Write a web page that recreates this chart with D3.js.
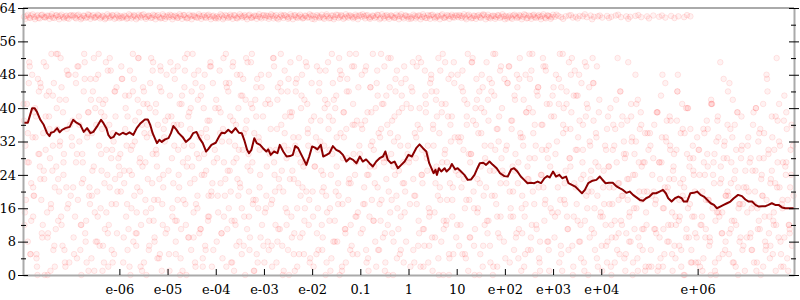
<!DOCTYPE html>
<html>
<head>
<meta charset="utf-8">
<script src="https://cdnjs.cloudflare.com/ajax/libs/d3/7.8.5/d3.min.js"></script>
<style>
body { margin: 0; background: #fff; }
text { font-family: "DejaVu Serif", "Liberation Serif", serif; font-size: 13px; fill: #000; }
</style>
</head>
<body>
<div id="chart"></div>
<script>
// x values are stored as powers of ten (log10 of the value)
var xTicks = [-6, -5, -4, -3, -2, -1, 0, 1, 2, 3, 4, 6];
var xTickLabels = ["e-06", "e-05", "e-04", "e-03", "e-02", "0.1", "1", "10", "e+02", "e+03", "e+04", "e+06"];
var yTicks = [0, 8, 16, 24, 32, 40, 48, 56, 64];
var yMinorTicks = [4, 12, 20, 28, 36, 44, 52, 60];

// running line
var lineX = [-8, -7.9, -7.81, -7.76, -7.71, -7.64, -7.57, -7.5, -7.45, -7.42, -7.36, -7.29, -7.24, -7.19, -7.12, -7.03, -6.96, -6.89, -6.81, -6.74, -6.67, -6.6, -6.54, -6.47, -6.38, -6.33, -6.27, -6.23, -6.18, -6.12, -6.07, -6, -5.93, -5.86, -5.79, -5.71, -5.64, -5.56, -5.47, -5.41, -5.36, -5.31, -5.22, -5.17, -5.12, -5.05, -4.98, -4.93, -4.88, -4.82, -4.77, -4.69, -4.62, -4.53, -4.47, -4.4, -4.34, -4.27, -4.2, -4.16, -4.09, -4, -3.93, -3.88, -3.81, -3.74, -3.67, -3.59, -3.52, -3.46, -3.41, -3.35, -3.31, -3.26, -3.2, -3.15, -3.08, -3.02, -2.95, -2.91, -2.86, -2.79, -2.72, -2.67, -2.6, -2.53, -2.46, -2.4, -2.35, -2.29, -2.24, -2.17, -2.12, -2.06, -2, -1.95, -1.89, -1.82, -1.77, -1.7, -1.64, -1.57, -1.5, -1.43, -1.36, -1.29, -1.22, -1.15, -1.08, -1.01, -0.95, -0.88, -0.81, -0.74, -0.67, -0.6, -0.53, -0.48, -0.43, -0.36, -0.29, -0.22, -0.15, -0.08, 0, 0.07, 0.16, 0.23, 0.3, 0.37, 0.43, 0.52, 0.56, 0.59, 0.63, 0.68, 0.75, 0.79, 0.86, 0.9, 0.97, 1.02, 1.09, 1.16, 1.23, 1.3, 1.37, 1.43, 1.48, 1.55, 1.61, 1.68, 1.75, 1.83, 1.9, 1.99, 2.06, 2.13, 2.19, 2.26, 2.33, 2.4, 2.47, 2.54, 2.61, 2.68, 2.75, 2.82, 2.88, 2.93, 3, 3.06, 3.13, 3.19, 3.27, 3.32, 3.39, 3.46, 3.53, 3.6, 3.66, 3.73, 3.82, 3.9, 3.97, 4.02, 4.09, 4.16, 4.24, 4.31, 4.38, 4.45, 4.52, 4.59, 4.66, 4.73, 4.8, 4.87, 4.93, 5, 5.07, 5.14, 5.21, 5.28, 5.34, 5.39, 5.46, 5.53, 5.6, 5.67, 5.71, 5.78, 5.85, 5.92, 5.99, 6.06, 6.13, 6.2, 6.27, 6.34, 6.4, 6.47, 6.54, 6.61, 6.68, 6.75, 6.84, 6.92, 6.99, 7.06, 7.13, 7.2, 7.27, 7.34, 7.41, 7.47, 7.54, 7.61, 7.68, 7.75, 7.82, 8];
var lineY = [36.5, 36.5, 40, 40, 39.1, 37.2, 36, 34, 33.3, 34.1, 34.3, 35.2, 34.2, 34.8, 35.2, 35.5, 37.2, 36.5, 36, 34.3, 35.2, 34, 34.3, 35.5, 37.2, 36.4, 35.2, 33.6, 32.8, 33.1, 34.1, 33.6, 34.1, 33.7, 34.2, 33.6, 35.2, 36.4, 37.3, 37.3, 36, 34, 31.6, 32.4, 31.9, 32.5, 32.8, 34, 35.7, 34.9, 34, 33.1, 31.9, 32.8, 34, 34.3, 32.8, 31.6, 29.6, 30.1, 31.2, 31.7, 33.2, 34.1, 34, 34.8, 34.1, 35.2, 34.1, 34, 32.4, 30, 29.2, 30, 32.8, 31.6, 31.2, 30.4, 29.6, 30.1, 28.8, 29.6, 29.2, 31.2, 29.6, 28.4, 28.5, 28.8, 30.9, 30.4, 29.2, 27.6, 26.4, 28.4, 30.8, 30.6, 30.1, 31.2, 28.4, 28.8, 29.2, 30.9, 30, 29.6, 28.8, 27.2, 28, 27.6, 26.8, 28.4, 27.2, 27.7, 26.8, 26, 27.2, 28, 28.4, 29.6, 27.6, 26.8, 27.2, 25.6, 26.4, 27.2, 28.8, 28.4, 30.4, 31.3, 30.4, 29.6, 26.8, 24.4, 25.2, 24, 25.6, 24.8, 25.6, 24.8, 25.6, 26.6, 25.3, 25.6, 24.8, 24, 22.8, 22.9, 24, 25.6, 26.8, 26.9, 26.4, 27.2, 26.4, 25.6, 24.4, 23.7, 23.6, 25.3, 25.6, 24.8, 23.6, 22.8, 22, 22.1, 22, 22.4, 22, 23.2, 23.7, 23.4, 24.8, 23.6, 24, 23.2, 23.6, 22, 21.6, 21.2, 20.4, 19.6, 20.4, 22, 22.6, 22.8, 23.6, 22.9, 22, 22.1, 22.1, 21.3, 20.8, 20.4, 19.7, 20, 19.2, 18.6, 18, 17.8, 18.4, 18.8, 19.6, 19.6, 20, 20.4, 19.6, 18.4, 17.6, 18.4, 18.8, 18.4, 17.6, 17.6, 19.6, 19.7, 20, 19.2, 18.8, 18, 17.2, 16.8, 16, 16.4, 16.8, 17.2, 17.6, 18.4, 19.2, 18.9, 18.1, 17.6, 17.6, 16.8, 16.4, 16.5, 16.5, 16.8, 17.2, 16.8, 16.8, 16.2, 16, 16];

// band of points near the top
var band = [
[-7.98,61.9],[-7.93,62.1],[-7.87,61.7],[-7.83,62.2],[-7.77,61.8],[-7.72,62],[-7.68,61.6],[-7.62,62.3],[-7.57,61.9],[-7.53,61.8],[-7.47,62.1],[-7.42,62],[-7.38,61.7],[-7.32,62.2],[-7.27,61.9],[-7.23,62.1],[-7.17,61.8],[-7.12,62],[-7.08,61.6],[-7.03,62.2],
[-6.97,62],[-6.92,61.7],[-6.88,62.2],[-6.82,61.9],[-6.78,61.6],[-6.73,62.1],[-6.67,61.8],[-6.63,62.3],[-6.58,62],[-6.52,61.7],[-6.48,61.9],[-6.43,62.2],[-6.37,61.8],[-6.33,62],[-6.28,61.6],[-6.22,62.1],[-6.18,61.9],[-6.13,62.2],[-6.07,61.7],[-6.02,62],
[-5.98,62.1],[-5.93,61.8],[-5.87,62],[-5.83,61.6],[-5.77,62.2],[-5.72,61.9],[-5.68,62.1],[-5.62,61.7],[-5.57,62],[-5.53,62.3],[-5.47,61.8],[-5.42,61.9],[-5.38,62.1],[-5.32,61.7],[-5.27,62.2],[-5.23,62],[-5.17,61.8],[-5.12,61.6],[-5.08,62.1],[-5.03,61.9],
[-4.97,61.8],[-4.92,62.2],[-4.88,61.9],[-4.82,62],[-4.78,61.7],[-4.73,62.1],[-4.67,62.3],[-4.63,61.8],[-4.58,61.6],[-4.52,62],[-4.48,62.2],[-4.43,61.9],[-4.37,61.7],[-4.33,62.1],[-4.28,62],[-4.22,61.8],[-4.18,62.2],[-4.13,61.9],[-4.07,62],[-4.02,61.7],
[-3.98,62],[-3.93,61.9],[-3.87,62.2],[-3.83,61.7],[-3.77,62.1],[-3.72,61.8],[-3.68,62],[-3.62,62.3],[-3.57,61.6],[-3.53,61.9],[-3.47,62.1],[-3.42,62],[-3.38,61.8],[-3.32,62.2],[-3.27,61.7],[-3.23,61.9],[-3.17,62.1],[-3.12,62],[-3.08,61.8],[-3.03,62.2],
[-2.97,61.7],[-2.92,62.1],[-2.88,61.9],[-2.82,62.2],[-2.78,62],[-2.73,61.6],[-2.67,61.8],[-2.63,62.1],[-2.58,62.3],[-2.52,61.9],[-2.48,61.7],[-2.43,62],[-2.37,62.2],[-2.33,61.8],[-2.28,62],[-2.22,61.9],[-2.18,61.6],[-2.13,62.1],[-2.07,61.8],[-2.02,62.2],
[-1.98,62.2],[-1.93,61.8],[-1.87,62],[-1.83,61.9],[-1.77,61.7],[-1.72,62.1],[-1.68,62],[-1.62,61.6],[-1.57,62.2],[-1.53,61.8],[-1.47,62.3],[-1.42,61.9],[-1.38,62.1],[-1.32,61.7],[-1.27,62],[-1.23,62.2],[-1.17,61.9],[-1.12,61.8],[-1.08,62],[-1.03,62.1],
[-0.97,61.9],[-0.92,62],[-0.88,62.2],[-0.82,61.7],[-0.78,61.8],[-0.73,62.1],[-0.67,61.9],[-0.63,62.3],[-0.58,61.6],[-0.52,62],[-0.48,62.1],[-0.43,61.8],[-0.37,62.2],[-0.33,61.9],[-0.28,61.7],[-0.22,62],[-0.18,62.1],[-0.13,61.8],[-0.07,62.2],[-0.02,61.9],
[0.02,62],[0.07,61.7],[0.13,62.1],[0.17,61.9],[0.23,62.2],[0.28,61.8],[0.32,62],[0.38,61.6],[0.43,62.1],[0.47,62.3],[0.53,61.9],[0.58,61.8],[0.62,62],[0.68,62.2],[0.73,61.7],[0.77,61.9],[0.83,62.1],[0.88,62],[0.92,61.8],[0.97,62.2],
[1.03,61.8],[1.08,62.1],[1.12,62],[1.18,61.7],[1.22,62.2],[1.27,61.9],[1.33,61.6],[1.37,62.1],[1.42,62],[1.48,61.8],[1.52,62.2],[1.57,62.3],[1.63,61.9],[1.67,61.7],[1.72,62],[1.78,62.1],[1.82,61.8],[1.87,62.2],[1.93,61.9],[1.98,62],
[2.02,62.1],[2.07,61.9],[2.13,61.7],[2.17,62.2],[2.23,62],[2.28,61.8],[2.32,62.1],[2.38,61.9],[2.43,62.3],[2.47,61.6],[2.53,62],[2.58,62.2],[2.62,61.8],[2.68,62],[2.73,61.9],[2.77,62.1],[2.83,61.7],[2.88,62.2],[2.92,62],[2.97,61.8],
[3.04,61.9],[3.11,62.1],[3.17,61.8],[3.26,62],[3.33,62.2],[3.41,61.7],[3.47,61.9],[3.55,62.1],[3.62,62],[3.7,61.8],[3.78,62.2],[3.85,61.9],[3.93,62],[4.02,61.7],[4.12,62.1],[4.21,61.9],[4.3,62.2],[4.41,61.8],[4.52,62],[4.6,61.9],[4.71,62.1],[4.83,61.8],[4.95,62],[5.08,62.2],[5.2,61.9],[5.33,61.7],[5.45,62.1],[5.6,62],[5.72,61.8],[5.85,62]
];
var bandOuter = [
[-7.95,61.4],[-7.9,62.4],[-7.85,61.6],[-7.8,62.5],[-7.75,61.3],[-7.7,62.3],[-7.65,61.5],[-7.6,62.4],[-7.55,61.7],[-7.5,62.2],[-7.45,61.4],[-7.4,62.5],[-7.35,61.6],[-7.3,62.3],[-7.25,61.3],[-7.2,62.4],[-7.15,61.5],[-7.1,62.2],[-7.05,61.4],[-7,62.3],
[-6.95,62.3],[-6.9,61.5],[-6.85,62.4],[-6.8,61.3],[-6.75,62.2],[-6.7,61.6],[-6.65,62.5],[-6.6,61.4],[-6.55,62.3],[-6.5,61.7],[-6.45,62.4],[-6.4,61.5],[-6.35,62.2],[-6.3,61.3],[-6.25,62.5],[-6.2,61.6],[-6.15,62.3],[-6.1,61.4],[-6.05,62.4],[-6,61.5],
[-5.95,61.6],[-5.9,62.2],[-5.85,61.4],[-5.8,62.5],[-5.75,61.5],[-5.7,62.3],[-5.65,61.3],[-5.6,62.4],[-5.55,61.7],[-5.5,62.5],[-5.45,61.4],[-5.4,62.2],[-5.35,61.6],[-5.3,62.4],[-5.25,61.3],[-5.2,62.3],[-5.15,61.5],[-5.1,62.5],[-5.05,61.4],[-5,62.2],
[-4.95,62.4],[-4.9,61.3],[-4.85,62.2],[-4.8,61.6],[-4.75,62.5],[-4.7,61.4],[-4.65,62.3],[-4.6,61.5],[-4.55,62.4],[-4.5,61.3],[-4.45,62.2],[-4.4,61.7],[-4.35,62.5],[-4.3,61.4],[-4.25,62.3],[-4.2,61.6],[-4.15,62.4],[-4.1,61.3],[-4.05,62.2],[-4,61.5],
[-3.95,61.5],[-3.9,62.5],[-3.85,61.3],[-3.8,62.3],[-3.75,61.6],[-3.7,62.4],[-3.65,61.4],[-3.6,62.2],[-3.55,61.5],[-3.5,62.5],[-3.45,61.7],[-3.4,62.3],[-3.35,61.3],[-3.3,62.4],[-3.25,61.6],[-3.2,62.2],[-3.15,61.4],[-3.1,62.5],[-3.05,61.5],[-3,62.3],
[-2.95,62.2],[-2.9,61.4],[-2.85,62.5],[-2.8,61.5],[-2.75,62.3],[-2.7,61.3],[-2.65,62.4],[-2.6,61.6],[-2.55,62.2],[-2.5,61.4],[-2.45,62.5],[-2.4,61.3],[-2.35,62.3],[-2.3,61.6],[-2.25,62.4],[-2.2,61.5],[-2.15,62.2],[-2.1,61.7],[-2.05,62.5],[-2,61.4],
[-1.95,61.3],[-1.9,62.3],[-1.85,61.6],[-1.8,62.4],[-1.75,61.4],[-1.7,62.5],[-1.65,61.5],[-1.6,62.2],[-1.55,61.3],[-1.5,62.4],[-1.45,61.6],[-1.4,62.3],[-1.35,61.4],[-1.3,62.5],[-1.25,61.7],[-1.2,62.2],[-1.15,61.5],[-1.1,62.4],[-1.05,61.3],[-1,62.3],
[-0.95,62.5],[-0.9,61.5],[-0.85,62.3],[-0.8,61.4],[-0.75,62.2],[-0.7,61.6],[-0.65,62.4],[-0.6,61.3],[-0.55,62.5],[-0.5,61.5],[-0.45,62.3],[-0.4,61.4],[-0.35,62.2],[-0.3,61.6],[-0.25,62.4],[-0.2,61.3],[-0.15,62.5],[-0.1,61.5],[-0.05,62.2],[0,61.4],
[0.05,61.4],[0.1,62.4],[0.15,61.5],[0.2,62.2],[0.25,61.3],[0.3,62.5],[0.35,61.6],[0.4,62.3],[0.45,61.4],[0.5,62.4],[0.55,61.5],[0.6,62.2],[0.65,61.3],[0.7,62.5],[0.75,61.6],[0.8,62.3],[0.85,61.4],[0.9,62.4],[0.95,61.7],[1,62.2],
[1.05,62.3],[1.1,61.6],[1.15,62.5],[1.2,61.3],[1.25,62.4],[1.3,61.5],[1.35,62.2],[1.4,61.4],[1.45,62.3],[1.5,61.6],[1.55,62.5],[1.6,61.3],[1.65,62.4],[1.7,61.5],[1.75,62.2],[1.8,61.4],[1.85,62.3],[1.9,61.6],[1.95,62.5],[2,61.3],
[2.05,61.5],[2.1,62.2],[2.15,61.4],[2.2,62.4],[2.25,61.6],[2.3,62.3],[2.35,61.3],[2.4,62.5],[2.45,61.5],[2.5,62.2],[2.55,61.4],[2.6,62.4],[2.65,61.6],[2.7,62.3],[2.75,61.3],[2.8,62.5],[2.85,61.5],[2.9,62.2],[2.95,61.4],[3,62.4],
[3.07,62.4],[3.21,61.4],[3.37,62.3],[3.51,61.5],[3.66,62.5],[3.81,61.3],[3.97,62.2],[4.16,61.6],[4.35,62.4],[4.56,61.4],[4.77,62.3],[4.99,61.5],[5.26,62.2],[5.52,61.6],[5.78,62.3]
];

// main cloud of points
var cloud = [
[-7.97,12],[-7.92,41],[-7.88,27],[-7.85,5],[-7.81,48],[-7.78,19],[-7.74,33],[-7.71,2],[-7.67,44],[-7.64,23],[-7.6,9],[-7.57,51],[-7.53,30],[-7.5,15],[-7.46,38],[-7.43,1],[-7.39,25],[-7.36,46],[-7.32,11],[-7.29,35],[-7.25,20],[-7.22,52],[-7.18,7],[-7.15,29],[-7.11,42],[-7.08,16],[-7.04,3],
[-7.95,31],[-7.9,8],[-7.86,50],[-7.83,22],[-7.79,14],[-7.76,39],[-7.72,4],[-7.69,47],[-7.65,26],[-7.62,18],[-7.58,34],[-7.55,0],[-7.51,43],[-7.48,10],[-7.44,28],[-7.41,53],[-7.37,6],[-7.34,21],[-7.3,40],[-7.27,13],[-7.23,32],[-7.2,45],[-7.16,24],[-7.13,3],[-7.09,49],[-7.06,17],[-7.02,36],
[-6.97,37],[-6.92,14],[-6.88,29],[-6.85,50],[-6.81,6],[-6.78,22],[-6.74,44],[-6.71,10],[-6.67,33],[-6.64,1],[-6.6,47],[-6.57,19],[-6.53,26],[-6.5,40],[-6.46,8],[-6.43,53],[-6.39,16],[-6.36,35],[-6.32,3],[-6.29,42],[-6.25,24],[-6.22,12],[-6.18,49],[-6.15,30],[-6.11,5],[-6.08,38],[-6.04,20],
[-6.95,9],[-6.9,46],[-6.86,18],[-6.83,32],[-6.79,0],[-6.76,27],[-6.72,51],[-6.69,13],[-6.65,39],[-6.62,21],[-6.58,4],[-6.55,44],[-6.51,15],[-6.48,36],[-6.44,48],[-6.41,7],[-6.37,25],[-6.34,41],[-6.3,11],[-6.27,30],[-6.23,2],[-6.2,52],[-6.16,17],[-6.13,34],[-6.09,23],[-6.06,45],[-6.02,28],
[-5.97,20],[-5.92,3],[-5.88,43],[-5.85,31],[-5.81,11],[-5.78,49],[-5.74,24],[-5.71,8],[-5.67,37],[-5.64,15],[-5.6,52],[-5.57,28],[-5.53,1],[-5.5,41],[-5.46,18],[-5.43,33],[-5.39,6],[-5.36,46],[-5.32,22],[-5.29,13],[-5.25,39],[-5.22,26],[-5.18,4],[-5.15,50],[-5.11,17],[-5.08,35],[-5.04,10],
[-5.95,47],[-5.9,25],[-5.86,14],[-5.83,38],[-5.79,2],[-5.76,30],[-5.72,53],[-5.69,19],[-5.65,7],[-5.62,42],[-5.58,27],[-5.55,12],[-5.51,45],[-5.48,34],[-5.44,0],[-5.41,23],[-5.37,40],[-5.34,16],[-5.3,51],[-5.27,9],[-5.23,29],[-5.2,36],[-5.16,5],[-5.13,44],[-5.09,21],[-5.06,32],[-5.02,48],
[-4.97,5],[-4.92,38],[-4.88,22],[-4.85,47],[-4.81,13],[-4.78,30],[-4.74,0],[-4.71,41],[-4.67,18],[-4.64,52],[-4.6,26],[-4.57,9],[-4.53,35],[-4.5,44],[-4.46,15],[-4.43,3],[-4.39,29],[-4.36,49],[-4.32,11],[-4.29,24],[-4.25,40],[-4.22,7],[-4.18,33],[-4.15,19],[-4.11,51],[-4.08,2],[-4.04,27],
[-4.95,43],[-4.9,16],[-4.86,31],[-4.83,8],[-4.79,50],[-4.76,21],[-4.72,36],[-4.69,1],[-4.65,45],[-4.62,12],[-4.58,28],[-4.55,39],[-4.51,6],[-4.48,53],[-4.44,23],[-4.41,17],[-4.37,42],[-4.34,10],[-4.3,34],[-4.27,4],[-4.23,48],[-4.2,25],[-4.16,14],[-4.13,37],[-4.09,20],[-4.06,46],[-4.02,30],
[-3.97,28],[-3.92,49],[-3.88,10],[-3.85,35],[-3.81,19],[-3.78,2],[-3.74,44],[-3.71,25],[-3.67,13],[-3.64,51],[-3.6,31],[-3.57,7],[-3.53,40],[-3.5,22],[-3.46,16],[-3.43,47],[-3.39,0],[-3.36,37],[-3.32,29],[-3.29,9],[-3.25,53],[-3.22,18],[-3.18,42],[-3.15,5],[-3.11,33],[-3.08,24],[-3.04,12],
[-3.95,15],[-3.9,39],[-3.86,4],[-3.83,27],[-3.79,46],[-3.76,11],[-3.72,32],[-3.69,20],[-3.65,50],[-3.62,1],[-3.58,36],[-3.55,23],[-3.51,8],[-3.48,43],[-3.44,30],[-3.41,14],[-3.37,52],[-3.34,26],[-3.3,6],[-3.27,41],[-3.23,17],[-3.2,34],[-3.16,45],[-3.13,3],[-3.09,21],[-3.06,48],[-3.02,38],
[-2.97,41],[-2.92,8],[-2.88,30],[-2.85,17],[-2.81,52],[-2.78,24],[-2.74,3],[-2.71,45],[-2.67,11],[-2.64,36],[-2.6,20],[-2.57,49],[-2.53,28],[-2.5,6],[-2.46,39],[-2.43,14],[-2.39,33],[-2.36,1],[-2.32,47],[-2.29,22],[-2.25,9],[-2.22,43],[-2.18,26],[-2.15,16],[-2.11,50],[-2.08,31],[-2.04,4],
[-2.95,19],[-2.9,48],[-2.86,35],[-2.83,2],[-2.79,27],[-2.76,12],[-2.72,42],[-2.69,23],[-2.65,53],[-2.62,7],[-2.58,31],[-2.55,16],[-2.51,44],[-2.48,0],[-2.44,38],[-2.41,25],[-2.37,10],[-2.34,46],[-2.3,29],[-2.27,5],[-2.23,40],[-2.2,21],[-2.16,13],[-2.13,51],[-2.09,34],[-2.06,18],[-2.02,37],
[-1.97,2],[-1.92,33],[-1.88,16],[-1.85,46],[-1.81,25],[-1.78,9],[-1.74,40],[-1.71,19],[-1.67,51],[-1.64,30],[-1.6,4],[-1.57,37],[-1.53,13],[-1.5,43],[-1.46,22],[-1.43,0],[-1.39,48],[-1.36,28],[-1.32,11],[-1.29,35],[-1.25,18],[-1.22,53],[-1.18,7],[-1.15,41],[-1.11,24],[-1.08,14],[-1.04,45],
[-1.95,26],[-1.9,10],[-1.86,44],[-1.83,32],[-1.79,6],[-1.76,21],[-1.72,49],[-1.69,15],[-1.65,38],[-1.62,1],[-1.58,29],[-1.55,42],[-1.51,20],[-1.48,8],[-1.44,52],[-1.41,34],[-1.37,17],[-1.34,39],[-1.3,3],[-1.27,47],[-1.23,23],[-1.2,12],[-1.16,36],[-1.13,50],[-1.09,27],[-1.06,5],[-1.02,31],
[-0.97,48],[-0.92,21],[-0.88,6],[-0.85,39],[-0.81,14],[-0.78,31],[-0.74,53],[-0.71,26],[-0.67,2],[-0.64,43],[-0.6,17],[-0.57,35],[-0.53,9],[-0.5,50],[-0.46,23],[-0.43,12],[-0.39,45],[-0.36,29],[-0.32,0],[-0.29,38],[-0.25,19],[-0.22,33],[-0.18,5],[-0.15,46],[-0.11,27],[-0.08,15],[-0.04,41],
[-0.95,11],[-0.9,37],[-0.86,24],[-0.83,1],[-0.79,45],[-0.76,18],[-0.72,30],[-0.69,8],[-0.65,49],[-0.62,34],[-0.58,13],[-0.55,41],[-0.51,27],[-0.48,3],[-0.44,36],[-0.41,20],[-0.37,52],[-0.34,10],[-0.3,32],[-0.27,44],[-0.23,16],[-0.2,25],[-0.16,6],[-0.13,40],[-0.09,22],[-0.06,47],[-0.02,29],
[0.03,17],[0.08,44],[0.12,3],[0.15,28],[0.19,36],[0.22,10],[0.26,51],[0.29,22],[0.33,7],[0.36,39],[0.4,31],[0.43,14],[0.47,47],[0.5,1],[0.54,25],[0.57,42],[0.61,19],[0.64,34],[0.68,8],[0.71,53],[0.75,29],[0.78,12],[0.82,38],[0.85,4],[0.89,48],[0.92,21],[0.96,33],
[0.05,40],[0.1,6],[0.14,19],[0.17,50],[0.21,13],[0.24,35],[0.28,24],[0.31,2],[0.35,43],[0.38,28],[0.42,16],[0.45,46],[0.49,9],[0.52,31],[0.56,22],[0.59,38],[0.63,0],[0.66,49],[0.7,27],[0.73,11],[0.77,41],[0.8,18],[0.84,5],[0.87,36],[0.91,14],[0.94,51],[0.98,25],
[1.03,33],[1.08,12],[1.12,49],[1.15,23],[1.19,4],[1.22,41],[1.26,18],[1.29,29],[1.33,52],[1.36,7],[1.4,36],[1.43,15],[1.47,44],[1.5,26],[1.54,2],[1.57,39],[1.61,21],[1.64,10],[1.68,47],[1.71,31],[1.75,0],[1.78,43],[1.82,17],[1.85,35],[1.89,9],[1.92,50],[1.96,24],
[1.05,7],[1.1,45],[1.14,30],[1.17,16],[1.21,38],[1.24,1],[1.28,27],[1.31,51],[1.35,20],[1.38,11],[1.42,42],[1.45,34],[1.49,5],[1.52,48],[1.56,19],[1.59,28],[1.63,13],[1.66,37],[1.7,3],[1.73,46],[1.77,25],[1.8,53],[1.84,14],[1.87,32],[1.91,22],[1.94,40],[1.98,8],
[2.03,22],[2.08,50],[2.12,14],[2.15,37],[2.19,6],[2.22,29],[2.26,45],[2.29,11],[2.33,33],[2.36,19],[2.4,2],[2.43,48],[2.47,26],[2.5,40],[2.54,9],[2.57,53],[2.61,17],[2.64,31],[2.68,43],[2.71,4],[2.75,24],[2.78,36],[2.82,13],[2.85,49],[2.89,28],[2.92,1],[2.96,38],
[2.05,46],[2.1,3],[2.14,35],[2.17,20],[2.21,42],[2.24,10],[2.28,27],[2.31,52],[2.35,16],[2.38,31],[2.42,5],[2.45,39],[2.49,23],[2.52,47],[2.56,12],[2.59,34],[2.63,0],[2.66,44],[2.7,21],[2.73,8],[2.77,30],[2.8,50],[2.84,18],[2.87,41],[2.91,6],[2.94,26],[2.98,15],
[3.03,9],[3.08,32],[3.12,47],[3.15,18],[3.19,1],[3.22,40],[3.26,25],[3.29,14],[3.33,51],[3.36,35],[3.4,7],[3.43,43],[3.47,21],[3.5,30],[3.54,48],[3.57,12],[3.61,27],[3.64,3],[3.68,38],[3.71,16],[3.75,45],[3.78,23],[3.82,52],[3.85,10],[3.89,34],[3.92,19],[3.96,42],
[3.05,29],[3.1,15],[3.14,53],[3.17,5],[3.21,36],[3.24,22],[3.28,44],[3.31,11],[3.35,28],[3.38,39],[3.42,2],[3.45,49],[3.49,17],[3.52,33],[3.56,8],[3.59,46],[3.63,24],[3.66,13],[3.7,41],[3.73,0],[3.77,31],[3.8,20],[3.84,37],[3.87,6],[3.91,50],[3.94,26],[3.98,14],
[4.03,14],[4.08,31],[4.12,3],[4.15,26],[4.19,40],[4.22,9],[4.26,21],[4.29,35],[4.33,6],[4.36,18],[4.4,44],[4.43,12],[4.47,29],[4.5,1],[4.54,37],[4.57,23],[4.61,8],[4.64,33],[4.68,16],[4.71,48],[4.75,4],[4.78,27],[4.82,39],[4.85,11],[4.89,20],[4.92,2],[4.96,34],
[4.05,25],[4.1,7],[4.14,38],[4.17,17],[4.21,0],[4.24,30],[4.28,13],[4.31,42],[4.35,22],[4.38,5],[4.42,36],[4.45,19],[4.49,28],[4.52,10],[4.56,51],[4.59,15],[4.63,32],[4.66,3],[4.7,24],[4.73,41],[4.77,9],[4.8,35],[4.84,18],[4.87,27],[4.91,1],[4.94,12],[4.98,30],
[5.03,6],[5.08,28],[5.12,17],[5.15,39],[5.19,2],[5.22,23],[5.26,33],[5.29,11],[5.33,46],[5.36,20],[5.4,8],[5.43,31],[5.47,15],[5.5,26],[5.54,4],[5.57,37],[5.61,13],[5.64,22],[5.68,41],[5.71,0],[5.75,18],[5.78,29],[5.82,9],[5.85,35],[5.89,14],[5.92,24],[5.96,3],
[5.05,19],[5.1,36],[5.14,10],[5.17,1],[5.21,27],[5.24,43],[5.28,16],[5.31,5],[5.35,32],[5.38,21],[5.42,38],[5.45,12],[5.49,25],[5.52,7],[5.56,30],[5.59,48],[5.63,14],[5.66,2],[5.7,23],[5.73,34],[5.77,11],[5.8,40],[5.84,17],[5.87,6],[5.91,28],[5.94,20],[5.98,9],
[6.03,30],[6.08,12],[6.12,4],[6.15,24],[6.19,37],[6.22,18],[6.26,8],[6.29,41],[6.33,27],[6.36,1],[6.4,15],[6.43,33],[6.47,22],[6.5,10],[6.54,47],[6.57,6],[6.61,28],[6.64,19],[6.68,35],[6.71,13],[6.75,3],[6.78,25],[6.82,39],[6.85,16],[6.89,9],[6.92,31],[6.96,21],
[6.05,2],[6.1,20],[6.14,34],[6.17,11],[6.21,26],[6.24,7],[6.28,42],[6.31,16],[6.35,29],[6.38,0],[6.42,38],[6.45,14],[6.49,23],[6.52,5],[6.56,32],[6.59,19],[6.63,44],[6.66,10],[6.7,27],[6.73,3],[6.77,36],[6.8,12],[6.84,21],[6.87,8],[6.91,30],[6.94,17],[6.98,1],
[7.03,15],[7.08,27],[7.12,6],[7.15,36],[7.19,20],[7.22,1],[7.26,32],[7.29,11],[7.33,24],[7.36,41],[7.4,8],[7.43,18],[7.47,29],[7.5,4],[7.54,38],[7.57,13],[7.61,22],[7.64,52],[7.68,9],[7.71,31],[7.75,17],[7.78,2],[7.82,26],[7.85,35],[7.89,12],[7.92,21],[7.96,7],
[7.05,33],[7.1,10],[7.14,25],[7.17,3],[7.21,40],[7.24,16],[7.28,28],[7.31,0],[7.35,19],[7.38,34],[7.42,7],[7.45,44],[7.49,14],[7.52,23],[7.56,5],[7.59,30],[7.63,12],[7.66,37],[7.7,21],[7.73,2],[7.77,27],[7.8,9],[7.84,39],[7.87,18],[7.91,11],[7.94,24],[7.98,31]
];
var cloudExtra = [
[-7.98,37],[-7.94,18],[-7.9,34],[-7.87,51],[-7.83,13],[-7.79,21],[-7.75,40],[-7.72,5],[-7.68,29],[-7.64,46],[-7.61,10],[-7.57,25],[-7.53,38],[-7.49,0],[-7.46,44],[-7.42,16],[-7.38,31],[-7.35,7],[-7.31,53],[-7.27,23],[-7.24,42],[-7.2,12],[-7.16,27],[-7.12,2],[-7.09,35],[-7.05,48],[-7.01,19],
[-7.99,41],[-7.96,15],[-7.91,27],[-7.88,46],[-7.84,5],[-7.8,33],[-7.77,19],[-7.73,38],[-7.7,0],[-7.66,29],[-7.63,45],[-7.59,12],[-7.56,23],[-7.52,50],[-7.49,9],[-7.45,35],[-7.42,17],[-7.38,43],[-7.34,2],[-7.31,26],[-7.28,53],[-7.24,31],[-7.21,14],[-7.17,39],[-7.14,6],[-7.1,21],[-7.07,48],
[-6.98,31],[-6.94,5],[-6.9,27],[-6.87,50],[-6.83,36],[-6.79,12],[-6.75,23],[-6.72,47],[-6.68,3],[-6.64,39],[-6.61,17],[-6.57,34],[-6.53,52],[-6.49,8],[-6.46,20],[-6.42,42],[-6.38,29],[-6.35,1],[-6.31,38],[-6.27,15],[-6.24,49],[-6.2,21],[-6.16,6],[-6.12,32],[-6.09,44],[-6.05,10],[-6.01,26],
[-6.99,33],[-6.96,21],[-6.91,48],[-6.88,4],[-6.84,38],[-6.8,12],[-6.77,29],[-6.73,53],[-6.7,8],[-6.66,34],[-6.63,19],[-6.59,42],[-6.56,25],[-6.52,1],[-6.49,47],[-6.45,14],[-6.42,31],[-6.38,39],[-6.34,7],[-6.31,22],[-6.28,51],[-6.24,10],[-6.21,36],[-6.17,28],[-6.14,3],[-6.1,44],[-6.07,17],
[-5.98,29],[-5.94,47],[-5.9,22],[-5.87,40],[-5.83,6],[-5.79,25],[-5.75,16],[-5.72,44],[-5.68,32],[-5.64,10],[-5.61,52],[-5.57,20],[-5.53,36],[-5.49,3],[-5.46,27],[-5.42,41],[-5.38,13],[-5.35,34],[-5.31,49],[-5.27,8],[-5.24,30],[-5.2,18],[-5.16,45],[-5.12,1],[-5.09,24],[-5.05,37],[-5.01,11],
[-5.99,24],[-5.96,50],[-5.91,9],[-5.88,35],[-5.84,17],[-5.8,43],[-5.77,0],[-5.73,31],[-5.7,47],[-5.66,10],[-5.63,21],[-5.59,39],[-5.56,2],[-5.52,26],[-5.49,44],[-5.45,15],[-5.42,36],[-5.38,7],[-5.34,52],[-5.31,29],[-5.28,18],[-5.24,41],[-5.21,4],[-5.17,23],[-5.14,49],[-5.1,12],[-5.07,33],
[-4.98,25],[-4.94,51],[-4.9,14],[-4.87,36],[-4.83,5],[-4.79,18],[-4.75,41],[-4.72,11],[-4.68,27],[-4.64,49],[-4.61,0],[-4.57,38],[-4.53,22],[-4.49,31],[-4.46,9],[-4.42,46],[-4.38,16],[-4.35,28],[-4.31,43],[-4.27,2],[-4.24,24],[-4.2,35],[-4.16,13],[-4.12,50],[-4.09,19],[-4.05,6],[-4.01,40],
[-4.99,38],[-4.96,1],[-4.91,28],[-4.88,49],[-4.84,13],[-4.8,36],[-4.77,24],[-4.73,4],[-4.7,43],[-4.66,31],[-4.63,17],[-4.59,53],[-4.56,9],[-4.52,40],[-4.49,26],[-4.45,48],[-4.42,2],[-4.38,19],[-4.34,33],[-4.31,11],[-4.28,45],[-4.24,29],[-4.21,6],[-4.17,37],[-4.14,14],[-4.1,50],[-4.07,22],
[-3.98,8],[-3.94,40],[-3.9,22],[-3.87,32],[-3.83,14],[-3.79,53],[-3.75,25],[-3.72,46],[-3.68,3],[-3.64,37],[-3.61,13],[-3.57,28],[-3.53,19],[-3.49,48],[-3.46,5],[-3.42,34],[-3.38,42],[-3.35,11],[-3.31,20],[-3.27,51],[-3.24,27],[-3.2,1],[-3.16,38],[-3.12,16],[-3.09,30],[-3.05,45],[-3.01,7],
[-3.99,42],[-3.96,19],[-3.91,34],[-3.88,10],[-3.84,52],[-3.8,23],[-3.77,45],[-3.73,16],[-3.7,38],[-3.66,3],[-3.63,27],[-3.59,12],[-3.56,48],[-3.52,30],[-3.49,21],[-3.45,43],[-3.42,7],[-3.38,35],[-3.34,51],[-3.31,14],[-3.28,25],[-3.24,40],[-3.21,1],[-3.17,18],[-3.14,47],[-3.1,32],[-3.07,9],
[-2.98,15],[-2.94,26],[-2.9,6],[-2.87,41],[-2.83,18],[-2.79,50],[-2.75,30],[-2.72,8],[-2.68,21],[-2.64,44],[-2.61,0],[-2.57,34],[-2.53,12],[-2.49,47],[-2.46,23],[-2.42,39],[-2.38,5],[-2.35,31],[-2.31,16],[-2.27,52],[-2.24,27],[-2.2,10],[-2.16,42],[-2.12,20],[-2.09,35],[-2.05,3],[-2.01,46],
[-2.99,3],[-2.96,16],[-2.91,42],[-2.88,29],[-2.84,7],[-2.8,52],[-2.77,20],[-2.73,35],[-2.7,11],[-2.66,46],[-2.63,25],[-2.59,1],[-2.56,38],[-2.52,15],[-2.49,30],[-2.45,51],[-2.42,9],[-2.38,23],[-2.34,44],[-2.31,2],[-2.28,33],[-2.24,19],[-2.21,48],[-2.17,5],[-2.14,27],[-2.1,41],[-2.07,12],
[-1.98,14],[-1.94,26],[-1.9,50],[-1.87,6],[-1.83,37],[-1.79,20],[-1.75,31],[-1.72,0],[-1.68,41],[-1.64,13],[-1.61,24],[-1.57,46],[-1.53,8],[-1.49,33],[-1.46,17],[-1.42,49],[-1.38,2],[-1.35,39],[-1.31,11],[-1.27,28],[-1.24,44],[-1.2,22],[-1.16,5],[-1.12,36],[-1.09,53],[-1.05,15],[-1.01,29],
[-1.99,20],[-1.96,38],[-1.91,5],[-1.88,30],[-1.84,49],[-1.8,12],[-1.77,24],[-1.73,42],[-1.7,3],[-1.66,35],[-1.63,16],[-1.59,53],[-1.56,8],[-1.52,40],[-1.49,26],[-1.45,19],[-1.42,47],[-1.38,1],[-1.34,33],[-1.31,10],[-1.28,44],[-1.24,22],[-1.21,6],[-1.17,50],[-1.14,29],[-1.1,14],[-1.07,37],
[-0.98,36],[-0.94,17],[-0.9,49],[-0.87,3],[-0.83,24],[-0.79,45],[-0.75,32],[-0.72,13],[-0.68,40],[-0.64,21],[-0.61,6],[-0.57,53],[-0.53,28],[-0.49,10],[-0.46,43],[-0.42,0],[-0.38,34],[-0.35,18],[-0.31,26],[-0.27,47],[-0.24,4],[-0.2,39],[-0.16,14],[-0.12,22],[-0.09,50],[-0.05,8],[-0.01,31],
[-0.99,10],[-0.96,35],[-0.91,17],[-0.88,50],[-0.84,4],[-0.8,26],[-0.77,39],[-0.73,13],[-0.7,22],[-0.66,46],[-0.63,6],[-0.59,33],[-0.56,18],[-0.52,41],[-0.49,1],[-0.45,28],[-0.42,52],[-0.38,15],[-0.34,37],[-0.31,8],[-0.28,24],[-0.24,49],[-0.21,11],[-0.17,31],[-0.14,43],[-0.1,3],[-0.07,20],
[0.02,28],[0.06,45],[0.1,23],[0.13,34],[0.17,17],[0.21,52],[0.25,2],[0.28,30],[0.32,11],[0.36,41],[0.39,25],[0.43,7],[0.47,48],[0.51,36],[0.54,15],[0.58,44],[0.62,4],[0.65,21],[0.69,39],[0.73,13],[0.76,51],[0.8,27],[0.84,0],[0.88,32],[0.91,18],[0.95,46],[0.99,9],
[0.01,27],[0.04,2],[0.09,51],[0.12,19],[0.16,33],[0.2,7],[0.23,40],[0.27,24],[0.3,11],[0.34,49],[0.37,29],[0.41,3],[0.44,15],[0.48,44],[0.51,35],[0.55,9],[0.58,26],[0.62,52],[0.66,18],[0.69,41],[0.72,0],[0.76,30],[0.79,13],[0.83,47],[0.86,22],[0.9,38],[0.93,5],
[1.02,48],[1.06,32],[1.1,21],[1.13,44],[1.17,5],[1.21,36],[1.25,29],[1.28,9],[1.32,51],[1.36,16],[1.39,40],[1.43,23],[1.47,0],[1.51,34],[1.54,45],[1.58,12],[1.62,27],[1.65,42],[1.69,7],[1.73,19],[1.76,53],[1.8,30],[1.84,2],[1.88,38],[1.91,14],[1.95,25],[1.99,47],
[1.01,12],[1.04,24],[1.09,33],[1.12,5],[1.16,42],[1.2,18],[1.23,53],[1.27,9],[1.3,29],[1.34,37],[1.37,0],[1.41,47],[1.44,16],[1.48,22],[1.51,40],[1.55,7],[1.58,31],[1.62,51],[1.66,13],[1.69,25],[1.72,44],[1.76,2],[1.79,19],[1.83,35],[1.86,10],[1.9,49],[1.93,28],
[2.02,30],[2.06,46],[2.1,20],[2.13,37],[2.17,14],[2.21,25],[2.25,48],[2.28,4],[2.32,34],[2.36,10],[2.39,42],[2.43,17],[2.47,23],[2.51,53],[2.54,6],[2.58,39],[2.62,28],[2.65,12],[2.69,45],[2.73,1],[2.76,36],[2.8,21],[2.84,50],[2.88,8],[2.91,31],[2.95,16],[2.99,43],
[2.01,4],[2.04,31],[2.09,50],[2.12,16],[2.16,26],[2.2,43],[2.23,9],[2.27,22],[2.3,47],[2.34,1],[2.37,33],[2.41,14],[2.44,39],[2.48,6],[2.51,28],[2.55,49],[2.58,20],[2.62,36],[2.66,11],[2.69,45],[2.72,3],[2.76,24],[2.79,52],[2.83,17],[2.86,30],[2.9,8],[2.93,41],
[3.02,38],[3.06,48],[3.1,21],[3.13,3],[3.17,45],[3.21,34],[3.25,17],[3.28,41],[3.32,6],[3.36,26],[3.39,52],[3.43,14],[3.47,30],[3.51,43],[3.54,8],[3.58,23],[3.62,36],[3.65,1],[3.69,50],[3.73,20],[3.76,32],[3.8,11],[3.84,46],[3.88,27],[3.91,4],[3.95,39],[3.99,15],
[3.01,45],[3.04,14],[3.09,24],[3.12,41],[3.16,7],[3.2,53],[3.23,18],[3.27,35],[3.3,11],[3.34,28],[3.37,48],[3.41,0],[3.44,22],[3.48,43],[3.51,13],[3.55,37],[3.58,4],[3.62,30],[3.66,51],[3.69,19],[3.72,40],[3.76,9],[3.79,25],[3.83,46],[3.86,16],[3.9,33],[3.93,2],
[4.02,1],[4.06,17],[4.1,30],[4.13,8],[4.17,21],[4.21,12],[4.25,36],[4.28,3],[4.32,27],[4.36,10],[4.39,44],[4.43,19],[4.47,32],[4.51,5],[4.54,23],[4.58,14],[4.62,38],[4.65,0],[4.69,29],[4.73,16],[4.76,42],[4.8,7],[4.84,26],[4.88,11],[4.91,34],[4.95,20],[4.99,2],
[4.01,7],[4.04,21],[4.09,12],[4.12,35],[4.16,26],[4.2,2],[4.23,17],[4.27,31],[4.3,9],[4.34,52],[4.37,22],[4.41,13],[4.44,38],[4.48,4],[4.51,29],[4.55,18],[4.58,8],[4.62,41],[4.66,24],[4.69,11],[4.72,32],[4.76,1],[4.79,20],[4.83,36],[4.86,6],[4.9,27],[4.93,15],
[5.02,31],[5.06,24],[5.1,11],[5.13,18],[5.17,39],[5.21,9],[5.25,27],[5.28,2],[5.32,21],[5.36,37],[5.39,12],[5.43,30],[5.47,5],[5.51,23],[5.54,14],[5.58,44],[5.62,7],[5.65,34],[5.69,19],[5.73,0],[5.76,40],[5.8,16],[5.84,28],[5.88,3],[5.91,25],[5.95,10],[5.99,33],
[5.01,34],[5.04,2],[5.09,20],[5.12,11],[5.16,39],[5.2,27],[5.23,4],[5.27,48],[5.3,16],[5.34,33],[5.37,8],[5.41,23],[5.44,37],[5.48,1],[5.51,29],[5.55,12],[5.58,44],[5.62,18],[5.66,6],[5.69,35],[5.72,21],[5.76,9],[5.79,40],[5.83,26],[5.86,3],[5.9,31],[5.93,14],
[6.02,30],[6.06,12],[6.1,1],[6.13,27],[6.17,18],[6.21,35],[6.25,9],[6.28,41],[6.32,24],[6.36,3],[6.39,32],[6.43,15],[6.47,51],[6.51,10],[6.54,28],[6.58,19],[6.62,36],[6.65,5],[6.69,22],[6.73,42],[6.76,13],[6.8,30],[6.84,0],[6.88,17],[6.91,38],[6.95,7],[6.99,25],
[6.01,3],[6.04,24],[6.09,14],[6.12,35],[6.16,9],[6.2,29],[6.23,18],[6.27,0],[6.3,41],[6.34,22],[6.37,13],[6.41,37],[6.44,4],[6.48,26],[6.51,15],[6.55,31],[6.58,8],[6.62,20],[6.66,46],[6.69,11],[6.72,33],[6.76,23],[6.79,2],[6.83,39],[6.86,17],[6.9,28],[6.93,6],
[7.02,9],[7.06,20],[7.1,28],[7.13,6],[7.17,17],[7.21,40],[7.25,11],[7.28,34],[7.32,23],[7.36,2],[7.39,14],[7.43,48],[7.47,30],[7.51,7],[7.54,25],[7.58,12],[7.62,38],[7.65,21],[7.69,32],[7.73,5],[7.76,16],[7.8,43],[7.84,27],[7.88,1],[7.91,10],[7.95,36],[7.99,19],
[7.01,21],[7.04,31],[7.09,9],[7.12,16],[7.16,39],[7.2,25],[7.23,3],[7.27,13],[7.3,35],[7.34,19],[7.37,28],[7.41,6],[7.44,47],[7.48,10],[7.51,22],[7.55,33],[7.58,15],[7.62,1],[7.66,27],[7.69,41],[7.72,8],[7.76,18],[7.79,37],[7.83,24],[7.86,4],[7.9,12],[7.93,30]
];

// set the dimensions and margins of the graph
var margin = { top: 8, right: 6, bottom: 25, left: 23 },
    width = 800 - margin.left - margin.right,
    height = 300 - margin.top - margin.bottom;

var svg = d3.select("#chart")
    .append("svg")
    .attr("width", width + margin.left + margin.right)
    .attr("height", height + margin.top + margin.bottom)
    .append("g")
    .attr("transform", "translate(" + margin.left + "," + margin.top + ")");

var x = d3.scaleLog()
    .domain([1e-8, 1e8])
    .range([0, width]);

var y = d3.scaleLinear()
    .domain([0, 64])
    .range([height, 0]);

// dots
var allDots = cloud.concat(cloudExtra, band, bandOuter);
svg.append("g")
    .selectAll("circle")
    .data(allDots)
    .enter()
    .append("circle")
    .attr("cx", function (d) { return x(Math.pow(10, d[0])); })
    .attr("cy", function (d) { return y(d[1]); })
    .attr("r", 2.8)
    .style("fill", "red")
    .style("fill-opacity", 0.05)
    .style("stroke", "red")
    .style("stroke-opacity", 0.09)
    .style("stroke-width", 1);

// line
var lineData = lineX.map(function (v, i) { return [v, lineY[i]]; });
svg.append("path")
    .datum(lineData)
    .attr("fill", "none")
    .attr("stroke", "#8b0000")
    .attr("stroke-width", 2)
    .attr("stroke-linejoin", "round")
    .attr("d", d3.line()
        .x(function (d) { return x(Math.pow(10, d[0])); })
        .y(function (d) { return y(d[1]); }));

// top border
svg.append("line")
    .attr("x1", 0).attr("x2", width)
    .attr("y1", 0).attr("y2", 0)
    .attr("stroke", "#aaa")
    .attr("stroke-width", 2);

function styleAxis(g) {
    g.attr("font-family", "DejaVu Serif").attr("font-size", 13);
    g.select(".domain").attr("stroke", "#aaa").attr("stroke-width", 2);
    g.selectAll(".tick line").attr("stroke", "#000");
}

// X axis (ticks point up into the plot)
var xAxis = svg.append("g")
    .attr("transform", "translate(0," + height + ")")
    .call(d3.axisBottom(x)
        .tickValues(xTicks.map(function (e) { return Math.pow(10, e); }))
        .tickFormat(function (d, i) { return xTickLabels[i]; })
        .tickSizeInner(-6)
        .tickSizeOuter(0)
        .tickPadding(10));
styleAxis(xAxis);

// left Y axis, major and minor ticks
var yAxisLeft = svg.append("g")
    .call(d3.axisLeft(y)
        .tickValues(yTicks)
        .tickSizeInner(5)
        .tickSizeOuter(0)
        .tickPadding(2));
yAxisLeft.selectAll(".tick line").attr("x1", 5);
styleAxis(yAxisLeft);

var yMinorLeft = svg.append("g")
    .call(d3.axisLeft(y).tickValues(yMinorTicks).tickFormat("").tickSize(2).tickSizeOuter(0));
yMinorLeft.select(".domain").remove();
yMinorLeft.selectAll(".tick line").attr("x1", 3).attr("stroke", "#000");

// right Y axis, ticks only
var yAxisRight = svg.append("g")
    .attr("transform", "translate(" + width + ",0)")
    .call(d3.axisRight(y).tickValues(yTicks).tickFormat("").tickSizeInner(5).tickSizeOuter(0));
yAxisRight.selectAll(".tick line").attr("x1", -5);
styleAxis(yAxisRight);

var yMinorRight = svg.append("g")
    .attr("transform", "translate(" + width + ",0)")
    .call(d3.axisRight(y).tickValues(yMinorTicks).tickFormat("").tickSize(2).tickSizeOuter(0));
yMinorRight.select(".domain").remove();
yMinorRight.selectAll(".tick line").attr("x1", -3).attr("stroke", "#000");
</script>
</body>
</html>
